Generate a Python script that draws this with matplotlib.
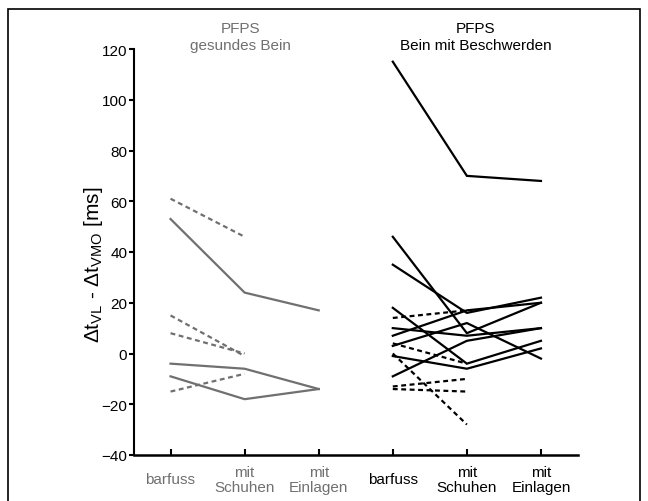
import numpy as np
import matplotlib
matplotlib.use("Agg")
import matplotlib.pyplot as plt
from matplotlib.patches import Rectangle

plt.rcParams['font.family'] = ['Liberation Sans', 'DejaVu Sans']
plt.rcParams['mathtext.fontset'] = 'custom'
plt.rcParams['mathtext.rm'] = 'Liberation Sans'
plt.rcParams['mathtext.it'] = 'Liberation Sans'

# categories
cats = ["barfuss", "mit\nSchuhen", "mit\nEinlagen", "barfuss", "mit\nSchuhen", "mit\nEinlagen"]
x_left = [1, 2, 3]
x_right = [4, 5, 6]

# gesundes Bein (grey): full lines barfuss / Schuhen / Einlagen
left_solid = [
    [53, 24, 17],
    [-4, -6, -14],
    [-9, -18, -14],
]
# barfuss / Schuhen only
left_dashed = [
    [61, 46],
    [15, -1],
    [8, 0],
    [-15, -8],
]

# Bein mit Beschwerden (black)
right_solid = [
    [115, 70, 68],
    [46, 8, 20],
    [35, 16, 22],
    [18, -4, 5],
    [10, 7, 10],
    [7, 17, 20],
    [3, 12, -2],
    [-1, -6, 2],
    [-9, 5, 10],
]
right_dashed = [
    [14, 17],
    [4, -4],
    [0, -28],
    [-13, -10],
    [-14, -15],
]

grey = "#707070"
dash = (0, (2.2, 1.6))

fig = plt.figure(figsize=(6.48, 5.02), dpi=100)
ax = fig.add_axes([133.5 / 648, 46 / 502, 444.5 / 648, 406 / 502])

for s in left_solid:
    ax.plot(x_left, s, color=grey, lw=1.6, solid_joinstyle='miter')
for s in left_dashed:
    ax.plot(x_left[:2], s, color=grey, lw=1.6, linestyle=dash)
for s in right_solid:
    ax.plot(x_right, s, color="black", lw=1.6, solid_joinstyle='miter')
for s in right_dashed:
    ax.plot(x_right[:2], s, color="black", lw=1.6, linestyle=dash)

ax.set_xlim(0.5, 6.5)
ax.set_ylim(-40, 120)
ax.set_yticks(np.arange(-40, 121, 20))
ax.set_xticks(x_left + x_right)
ax.set_xticklabels([])
ax.tick_params(axis='y', direction='out', length=3.5, width=1.5, labelsize=11, pad=1)
ax.tick_params(axis='x', direction='in', length=4.5, width=1.5)
for lab in ax.get_yticklabels():
    lab.set_fontstretch('condensed')

for sp in ["top", "right"]:
    ax.spines[sp].set_visible(False)
ax.spines["left"].set_linewidth(1.5)
ax.spines["bottom"].set_linewidth(1.8)

trans = ax.get_xaxis_transform()
for i, (xv, c) in enumerate(zip(x_left + x_right, cats)):
    col = grey if i < 3 else "black"
    ax.text(xv, -0.06, c, transform=trans, ha='center', va='center',
            fontsize=11, color=col, linespacing=1.1)

ax.text(1.94, 1.03, "PFPS\ngesundes Bein", transform=trans, ha='center', va='center',
        fontsize=11, color=grey, linespacing=1.25)
ax.text(5.12, 1.03, "PFPS\nBein mit Beschwerden", transform=trans, ha='center', va='center',
        fontsize=11, color="black", linespacing=1.25)

ax.text(-0.091, 0.47, r"$\Delta\mathrm{t}_{\mathrm{VL}}$ - $\Delta\mathrm{t}_{\mathrm{VMO}}$ [ms]",
        transform=ax.transAxes, rotation=90, ha='center', va='center', fontsize=15)

fig.patches.append(Rectangle((8 / 648, -0.05), 632 / 648, 1.05 - 10 / 502,
                             transform=fig.transFigure, fill=False, edgecolor="black", lw=1.2))

fig.savefig("out.png", dpi=100)
